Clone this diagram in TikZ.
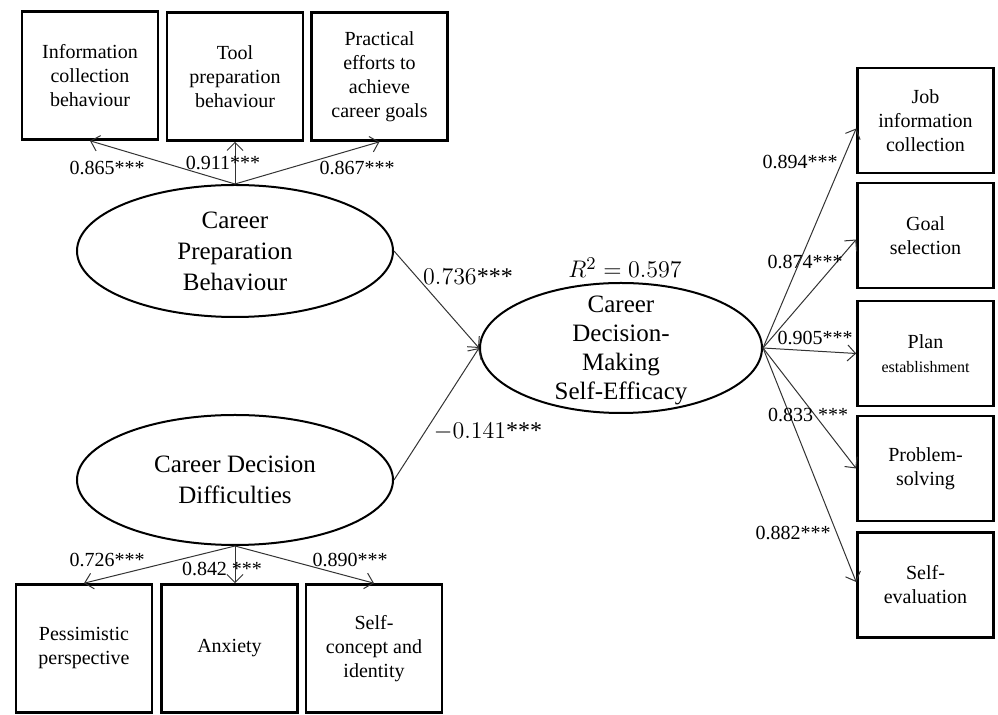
\documentclass[tikz,border=0pt]{standalone}
\usepackage{fontspec}
\setmainfont{Liberation Serif}
\usetikzlibrary{shapes.geometric,arrows.meta}

\tikzset{
	itembox/.style={draw, line width=1.3pt, minimum width=68pt, minimum height=64pt, align=center, inner sep=2pt, font=\fontsize{10}{12}\selectfont},
	rightbox/.style={itembox, minimum height=52.5pt},
	latent/.style={ellipse, draw, line width=1pt, align=center, inner sep=0pt, font=\fontsize{12.5}{15.5}\selectfont},
	load/.style={inner sep=0pt, font=\fontsize{10}{12}\selectfont},
	coef/.style={inner sep=0pt, font=\fontsize{12}{14}\selectfont},
	link/.style={draw=black!80, line width=0.5pt, -{Straight Barb[length=4pt,width=8pt]}}
}

\begin{document}
\begin{tikzpicture}[x=0.5pt, y=-0.5pt]
	\useasboundingbox (0,0) rectangle (998,715);

	% latent variables
	\node (CPB) at (235,251) [latent, minimum width=158pt, minimum height=66pt] {Career\\Preparation\\Behaviour};
	\node (CDD) at (235,480) [latent, minimum width=158pt, minimum height=65pt] {Career Decision\\Difficulties};
	\node (CDMSE) at (621,348) [latent, minimum width=141pt, minimum height=65pt,
		label={[align=center, inner sep=0pt, font=\fontsize{12.5}{14.5}\selectfont, yshift=-1pt]center:{Career\\Decision-\\Making\\Self-Efficacy}}] {};
	\node (R2) at (625,278) [coef, anchor=base, font=\fontsize{13}{15}\selectfont] {$R^2 = 0.597$};

	% indicators of career preparation behaviour
	\node (Info) at (90,75.5) [itembox] {Information\\collection\\behaviour};
	\node (Tool) at (235,76.5) [itembox] {Tool\\preparation\\behaviour};
	\node (Effort) at (379.5,76.5) [itembox] {Practical\\efforts to\\achieve\\career goals};

	% indicators of career decision difficulties
	\node (Pess) at (84,648.5) [itembox] {Pessimistic\\perspective};
	\node (Anx) at (229.5,648.5) [itembox] {Anxiety};
	\node (SelfCon) at (374,648.5) [itembox] {Self-\\concept and\\identity};

	% indicators of self-efficacy
	\node (Job) at (925.5,120.5) [rightbox] {Job\\information\\collection};
	\node (Goal) at (925.5,235.5) [rightbox] {Goal\\selection};
	\node (Plan) at (925.5,353.5) [rightbox] {Plan\\{\fontsize{8}{10}\selectfont establishment}};
	\node (Prob) at (925.5,468.5) [rightbox] {Problem-\\solving};
	\node (SelfEv) at (925.5,585) [rightbox] {Self-\\evaluation};

	% paths
	\draw[link] (CPB.north) -- (Info.south);
	\draw[link] (CPB.north) -- (Tool.south);
	\draw[link] (CPB.north) -- (Effort.south);
	\draw[link] (CDD.south) -- (Pess.north);
	\draw[link] (CDD.south) -- (CDD.south |- Anx.north);
	\draw[link] (CDD.south) -- (SelfCon.north);
	\draw[link] (CPB.east) -- (CDMSE.west);
	\draw[link] (CDD.east) -- (CDMSE.west);
	\draw[link] (CDMSE.east) -- ([yshift=-4pt]Job.west);
	\draw[link] (CDMSE.east) -- ([yshift=-2pt]Goal.west);
	\draw[link] (CDMSE.east) -- (Plan.west);
	\draw[link] (CDMSE.east) -- (Prob.west);
	\draw[link] (CDMSE.east) -- ([yshift=1.5pt]SelfEv.west);

	% loadings
	\node (L865) at (107,168) [load] {0.865***};
	\node (L911) at (223,163) [load] {0.911***};
	\node (L867) at (357,168) [load] {0.867***};
	\node (L726) at (107,560) [load] {0.726***};
	\node (L842) at (222,569) [load] {0.842 ***};
	\node (L890) at (350,560) [load] {0.890***};
	\node (L894) at (800,162) [load] {0.894***};
	\node (L874) at (805,262) [load] {0.874***};
	\node (L905) at (815,338) [load] {0.905***};
	\node (L833) at (808,415) [load] {0.833 ***};
	\node (L882) at (793,533) [load] {0.882***};
	\node (B736) at (468,277) [coef] {$0.736$***};
	\node (B141) at (488,432) [coef] {$-0.141$***};
\end{tikzpicture}
\end{document}
